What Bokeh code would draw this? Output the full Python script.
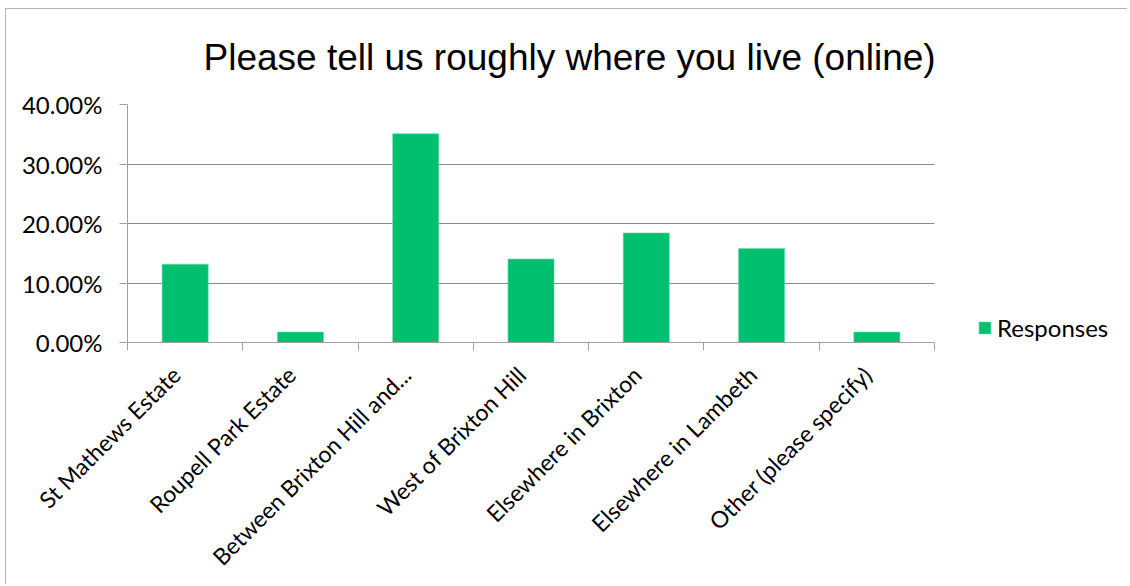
from math import pi
from bokeh.plotting import figure
from bokeh.models import (Range1d, LinearAxis, FixedTicker, NumeralTickFormatter, Legend,
                          LegendItem, ColumnDataSource, Title, Grid)
from bokeh.embed import file_html
from bokeh.resources import INLINE

# ---- data ----
categories = ["St Mathews Estate", "Roupell Park Estate", "Between Brixton Hill and...",
              "West of Brixton Hill", "Elsewhere in Brixton", "Elsewhere in Lambeth",
              "Other (please specify)"]
responses = [0.1316, 0.0175, 0.3509, 0.1404, 0.1842, 0.1579, 0.0175]
y_ticks = [0.0, 0.1, 0.2, 0.3, 0.4]
series_name = "Responses"
title_text = "Please tell us roughly where you live (online)"

BAR = "#00BF6F"
GRID = "#8a8a8a"
AXIS = "#a0a0a0"
LABEL_FONT = "Lato"
LABEL_SIZE = "24px"
XLABEL_SIZE = "23px"

n = len(categories)
centers = [i + 0.5 for i in range(n)]
boundaries = list(range(n + 1))

# layout (pixels inside the figure)
W, H = 1122, 576
LEFT, TOP, BOTTOM = 121, 95, 243
CHART_W = 807            # width of the category area
FRAME_RIGHT_PAD = 8      # frame extended to the right to host the legend
frame_w = W - LEFT - FRAME_RIGHT_PAD
x_end = n * frame_w / CHART_W
label_shift = -0.08      # small nudge of the rotated labels

p = figure(width=W, height=H, x_range=Range1d(0, x_end),
           y_range=Range1d(0, 0.4), x_axis_type=None, y_axis_type="linear",
           output_backend="svg", toolbar_location=None,
           min_border_left=LEFT, min_border_right=FRAME_RIGHT_PAD, min_border_top=TOP,
           min_border_bottom=BOTTOM)
p.outline_line_color = None
p.background_fill_color = "white"
p.border_fill_color = "white"
p.styles = {"border-left": "1px solid #b4b4b4", "border-top": "1px solid #b4b4b4",
            "margin-left": "5px", "margin-top": "8px"}

# title
t = Title(text=title_text, align="left", offset=76, vertical_align="top",
          text_font="Liberation Sans", text_font_size="37px", text_font_style="normal",
          text_color="black")
if "standoff" in Title.properties():
    t.standoff = 50
p.title = t

src = ColumnDataSource(data=dict(x=centers, cat=categories, val=responses))
bars = p.vbar(x="x", top="val", width=0.4, source=src, fill_color=BAR,
              line_color="#6fdcae", line_width=0.6)

# y axis
ya = p.yaxis[0]
ya.ticker = FixedTicker(ticks=y_ticks)
ya.formatter = NumeralTickFormatter(format="0.00%")
ya.axis_line_color = AXIS
ya.major_tick_line_color = AXIS
ya.major_tick_out = 8
ya.major_tick_in = 0
ya.minor_tick_line_color = None
ya.major_label_standoff = 17
ya.major_label_text_font = LABEL_FONT
ya.major_label_text_font_size = LABEL_SIZE
ya.major_label_text_color = "black"

# horizontal grid lines, limited to the category area
if "cross_bounds" in Grid.properties():
    p.ygrid.ticker = FixedTicker(ticks=y_ticks)
    p.ygrid.grid_line_color = GRID
    p.ygrid.grid_line_width = 1
    p.ygrid.cross_bounds = (0, n)
else:
    p.ygrid.visible = False
    p.segment(x0=[0] * len(y_ticks), x1=[n] * len(y_ticks), y0=y_ticks, y1=y_ticks,
              line_color=GRID, line_width=1, level="underlay")

# x axis: labels at category centres, tick marks at category boundaries
label_ticks = [c + label_shift for c in centers]
xa = LinearAxis(ticker=FixedTicker(ticks=label_ticks, minor_ticks=boundaries),
                major_label_overrides={c: lab for c, lab in zip(label_ticks, categories)},
                bounds=(0, n))
xa.axis_line_color = AXIS
xa.major_tick_line_color = None
xa.major_tick_out = 0
xa.major_tick_in = 0
xa.minor_tick_line_color = AXIS
xa.minor_tick_out = 8
xa.minor_tick_in = 0
xa.major_label_orientation = pi / 4
xa.major_label_standoff = 20
xa.major_label_text_font = LABEL_FONT
xa.major_label_text_font_size = XLABEL_SIZE
xa.major_label_text_color = "black"
p.add_layout(xa, "below")

legend = Legend(items=[LegendItem(label=series_name, renderers=[bars])],
                location=(850, 0), orientation="vertical")
legend.border_line_color = None
legend.background_fill_alpha = 0
legend.padding = 0
legend.margin = 0
legend.glyph_width = 15
legend.glyph_height = 15
legend.label_standoff = 5
legend.label_text_font = LABEL_FONT
legend.label_text_font_size = LABEL_SIZE
legend.label_text_color = "black"
p.add_layout(legend, "center")

open("out.html", "w").write(file_html(p, INLINE))
